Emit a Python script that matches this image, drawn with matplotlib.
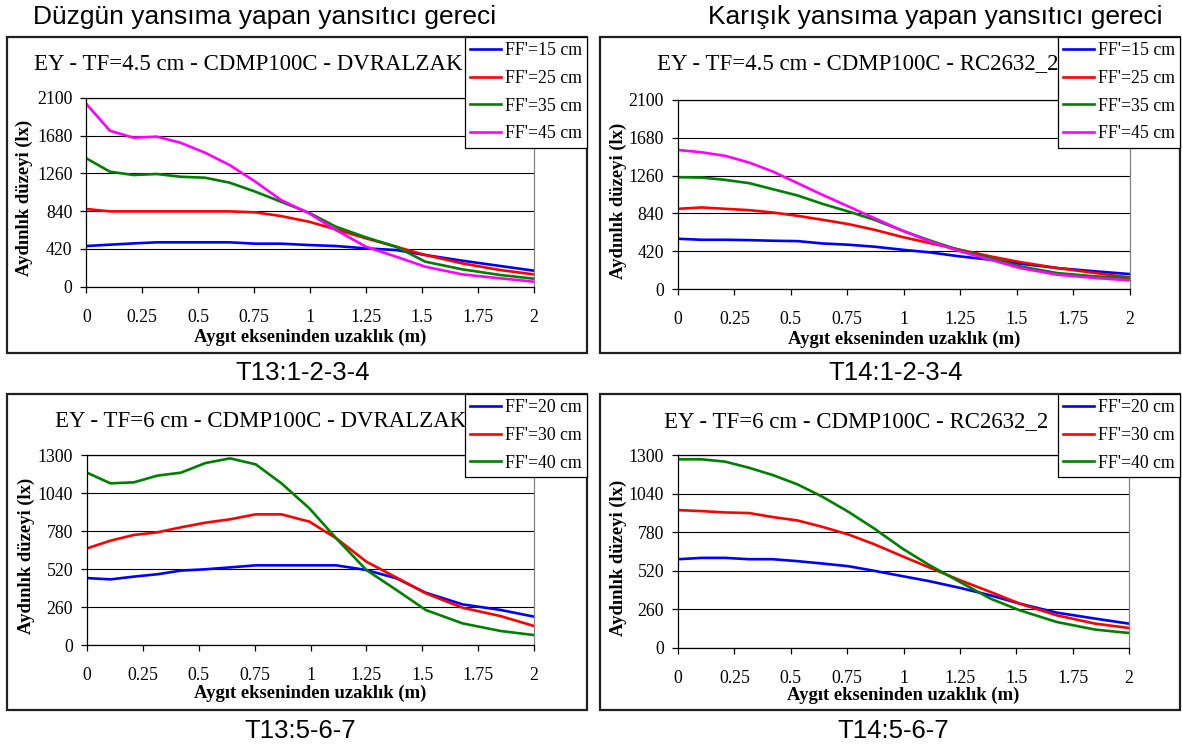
import matplotlib
matplotlib.use('Agg')
import matplotlib.pyplot as plt
from matplotlib.patches import Rectangle
from matplotlib.ticker import MultipleLocator, FormatStrFormatter

# Illuminance (lx) vs distance from the luminaire axis (m)

dist = [0, 0.105, 0.21, 0.315, 0.42, 0.53, 0.64, 0.755, 0.87, 0.995,
        1.115, 1.25, 1.385, 1.515, 1.68, 1.85, 2.0]

# T13:1-2-3-4  (DVRALZAK, TF=4.5 cm)
t13a_15 = [452, 467, 481, 493, 493, 493, 493, 478, 478, 463, 452, 426, 407, 352, 289, 230, 178]
t13a_25 = [863, 837, 837, 837, 837, 837, 837, 826, 785, 722, 637, 537, 444, 352, 259, 185, 137]
t13a_35 = [1426, 1278, 1241, 1252, 1222, 1211, 1156, 1056, 944, 822, 667, 548, 444, 278, 193, 130, 89]
t13a_45 = [2030, 1733, 1656, 1667, 1600, 1489, 1352, 1167, 963, 815, 630, 444, 333, 222, 137, 93, 56]

# T14:1-2-3-4  (RC2632_2, TF=4.5 cm)
t14a_15 = [558, 547, 547, 543, 536, 532, 506, 492, 470, 436, 407, 362, 325, 281, 233, 196, 166]
t14a_25 = [891, 906, 891, 876, 850, 813, 769, 721, 658, 577, 510, 436, 362, 299, 233, 177, 129]
t14a_35 = [1242, 1238, 1212, 1176, 1109, 1039, 946, 861, 769, 647, 540, 429, 344, 251, 177, 140, 122]
t14a_45 = [1545, 1519, 1479, 1405, 1305, 1176, 1046, 917, 787, 647, 529, 418, 325, 233, 159, 122, 96]

# T13:5-6-7  (DVRALZAK, TF=6 cm)
t13b_20 = [458, 449, 468, 484, 509, 518, 531, 545, 545, 545, 545, 513, 456, 358, 278, 240, 194]
t13b_30 = [661, 714, 753, 771, 805, 837, 860, 894, 894, 844, 730, 570, 461, 354, 255, 198, 130]
t13b_40 = [1179, 1106, 1113, 1159, 1179, 1245, 1277, 1236, 1106, 935, 730, 513, 376, 240, 148, 96, 68]

# T14:5-6-7  (RC2632_2, TF=6 cm)
t14b_20 = [598, 607, 607, 598, 598, 585, 569, 551, 520, 484, 450, 405, 355, 299, 238, 198, 164]
t14b_30 = [929, 922, 913, 909, 882, 859, 816, 765, 699, 618, 542, 457, 378, 299, 220, 164, 135]
t14b_40 = [1271, 1271, 1255, 1214, 1165, 1102, 1019, 918, 805, 670, 558, 445, 333, 254, 175, 124, 101]

labels_a = ["FF'=15 cm", "FF'=25 cm", "FF'=35 cm", "FF'=45 cm"]
labels_b = ["FF'=20 cm", "FF'=30 cm", "FF'=40 cm"]
colors = ['#0000ff', '#ff0000', '#008000', '#ff00ff']

W, H = 1182, 744
SERIF = 'Liberation Serif'
SANS = 'Liberation Sans'

fig = plt.figure(figsize=(W / 100, H / 100), dpi=100)


def fx(px):
    return px / W


def fy(py):
    return 1 - py / H


panels = [
    dict(frame=(7, 37, 587, 353), plot=(86.4, 97.7, 533.8, 286.7),
         title='EY - TF=4.5 cm - CDMP100C - DVRALZAK', title_xy=(248, 65),
         series=[t13a_15, t13a_25, t13a_35, t13a_45], labels=labels_a,
         ymax=2100, ystep=420, ylab_x=24, xlab_y=337),
    dict(frame=(600, 37, 1180, 353), plot=(678, 100, 1129.5, 289),
         title='EY - TF=4.5 cm - CDMP100C - RC2632_2', title_xy=(858, 64),
         series=[t14a_15, t14a_25, t14a_35, t14a_45], labels=labels_a,
         ymax=2100, ystep=420, ylab_x=618, xlab_y=339),
    dict(frame=(7, 394, 587, 710), plot=(87, 455, 534, 645),
         title='EY - TF=6 cm - CDMP100C - DVRALZAK', title_xy=(261, 421),
         series=[t13b_20, t13b_30, t13b_40], labels=labels_b,
         ymax=1300, ystep=260, ylab_x=26, xlab_y=693),
    dict(frame=(600, 394, 1180, 710), plot=(678, 455, 1129, 648),
         title='EY - TF=6 cm - CDMP100C - RC2632_2', title_xy=(856, 422),
         series=[t14b_20, t14b_30, t14b_40], labels=labels_b,
         ymax=1300, ystep=260, ylab_x=618, xlab_y=695),
]

for p in panels:
    l, t, r, b = p['frame']
    fig.patches.append(Rectangle((fx(l), fy(b)), fx(r) - fx(l), fy(t) - fy(b),
                                 transform=fig.transFigure, fill=False,
                                 edgecolor='#202020', linewidth=1.6, zorder=-1))

    pl, pt, pr, pb = p['plot']
    ax = fig.add_axes([fx(pl), fy(pb), fx(pr) - fx(pl), fy(pt) - fy(pb)])
    handles = []
    for vals, c in zip(p['series'], colors):
        h, = ax.plot(dist, vals, color=c, linewidth=1.9, solid_joinstyle='round')
        handles.append(h)

    ax.set_xlim(0, 2)
    ax.set_ylim(0, p['ymax'])
    ax.xaxis.set_major_locator(MultipleLocator(0.25))
    ax.xaxis.set_major_formatter(FormatStrFormatter('%g'))
    ax.yaxis.set_major_locator(MultipleLocator(p['ystep']))
    ax.grid(axis='y', color='black', linewidth=0.8)
    ax.set_axisbelow(True)
    for s in ['left', 'bottom', 'top']:
        ax.spines[s].set_color('black')
        ax.spines[s].set_linewidth(0.9)
    ax.spines['right'].set_color('#808080')
    ax.spines['right'].set_linewidth(0.9)
    ax.tick_params(axis='x', direction='out', length=4, width=0.9, pad=12,
                   labelsize=12.8, top=False)
    ax.tick_params(axis='y', direction='out', length=4, width=0.9, pad=6,
                   labelsize=12.8, right=False)
    for lab in ax.get_xticklabels() + ax.get_yticklabels():
        lab.set_family(SERIF)

    fig.text(fx(p['title_xy'][0]), fy(p['title_xy'][1]), p['title'],
             ha='center', va='center', family=SERIF, fontsize=16.5)
    fig.text(fx((pl + pr) / 2), fy(p['xlab_y']), 'Aygıt ekseninden uzaklık (m)',
             ha='center', va='center', family=SERIF, fontsize=13.4, fontweight='bold')
    fig.text(fx(p['ylab_x']), fy((pt + pb) / 2 + 6), 'Aydınlık düzeyi (lx)',
             ha='center', va='center', rotation=90, family=SERIF, fontsize=13.4,
             fontweight='bold')

    leg = ax.legend(handles, p['labels'], loc='upper right',
                    bbox_to_anchor=(fx(r), fy(t)), bbox_transform=fig.transFigure,
                    borderaxespad=0, fancybox=False, framealpha=1,
                    edgecolor='black', borderpad=0.3, handlelength=1.75,
                    handletextpad=0.2, labelspacing=0.6,
                    prop={'family': SERIF, 'size': 12.8})
    leg.get_frame().set_linewidth(0.9)

# captions around the panels
fig.text(fx(265), fy(17), 'Düzgün yansıma yapan yansıtıcı gereci', ha='center',
         va='center', family=SANS, fontsize=19)
fig.text(fx(935), fy(17), 'Karışık yansıma yapan yansıtıcı gereci', ha='center',
         va='center', family=SANS, fontsize=19)
fig.text(fx(303), fy(373), 'T13:1-2-3-4', ha='center', va='center', family=SANS, fontsize=18.5)
fig.text(fx(896), fy(373), 'T14:1-2-3-4', ha='center', va='center', family=SANS, fontsize=18.5)
fig.text(fx(300), fy(731), 'T13:5-6-7', ha='center', va='center', family=SANS, fontsize=18.5)
fig.text(fx(893), fy(731), 'T14:5-6-7', ha='center', va='center', family=SANS, fontsize=18.5)

fig.savefig('out.png', dpi=100)
